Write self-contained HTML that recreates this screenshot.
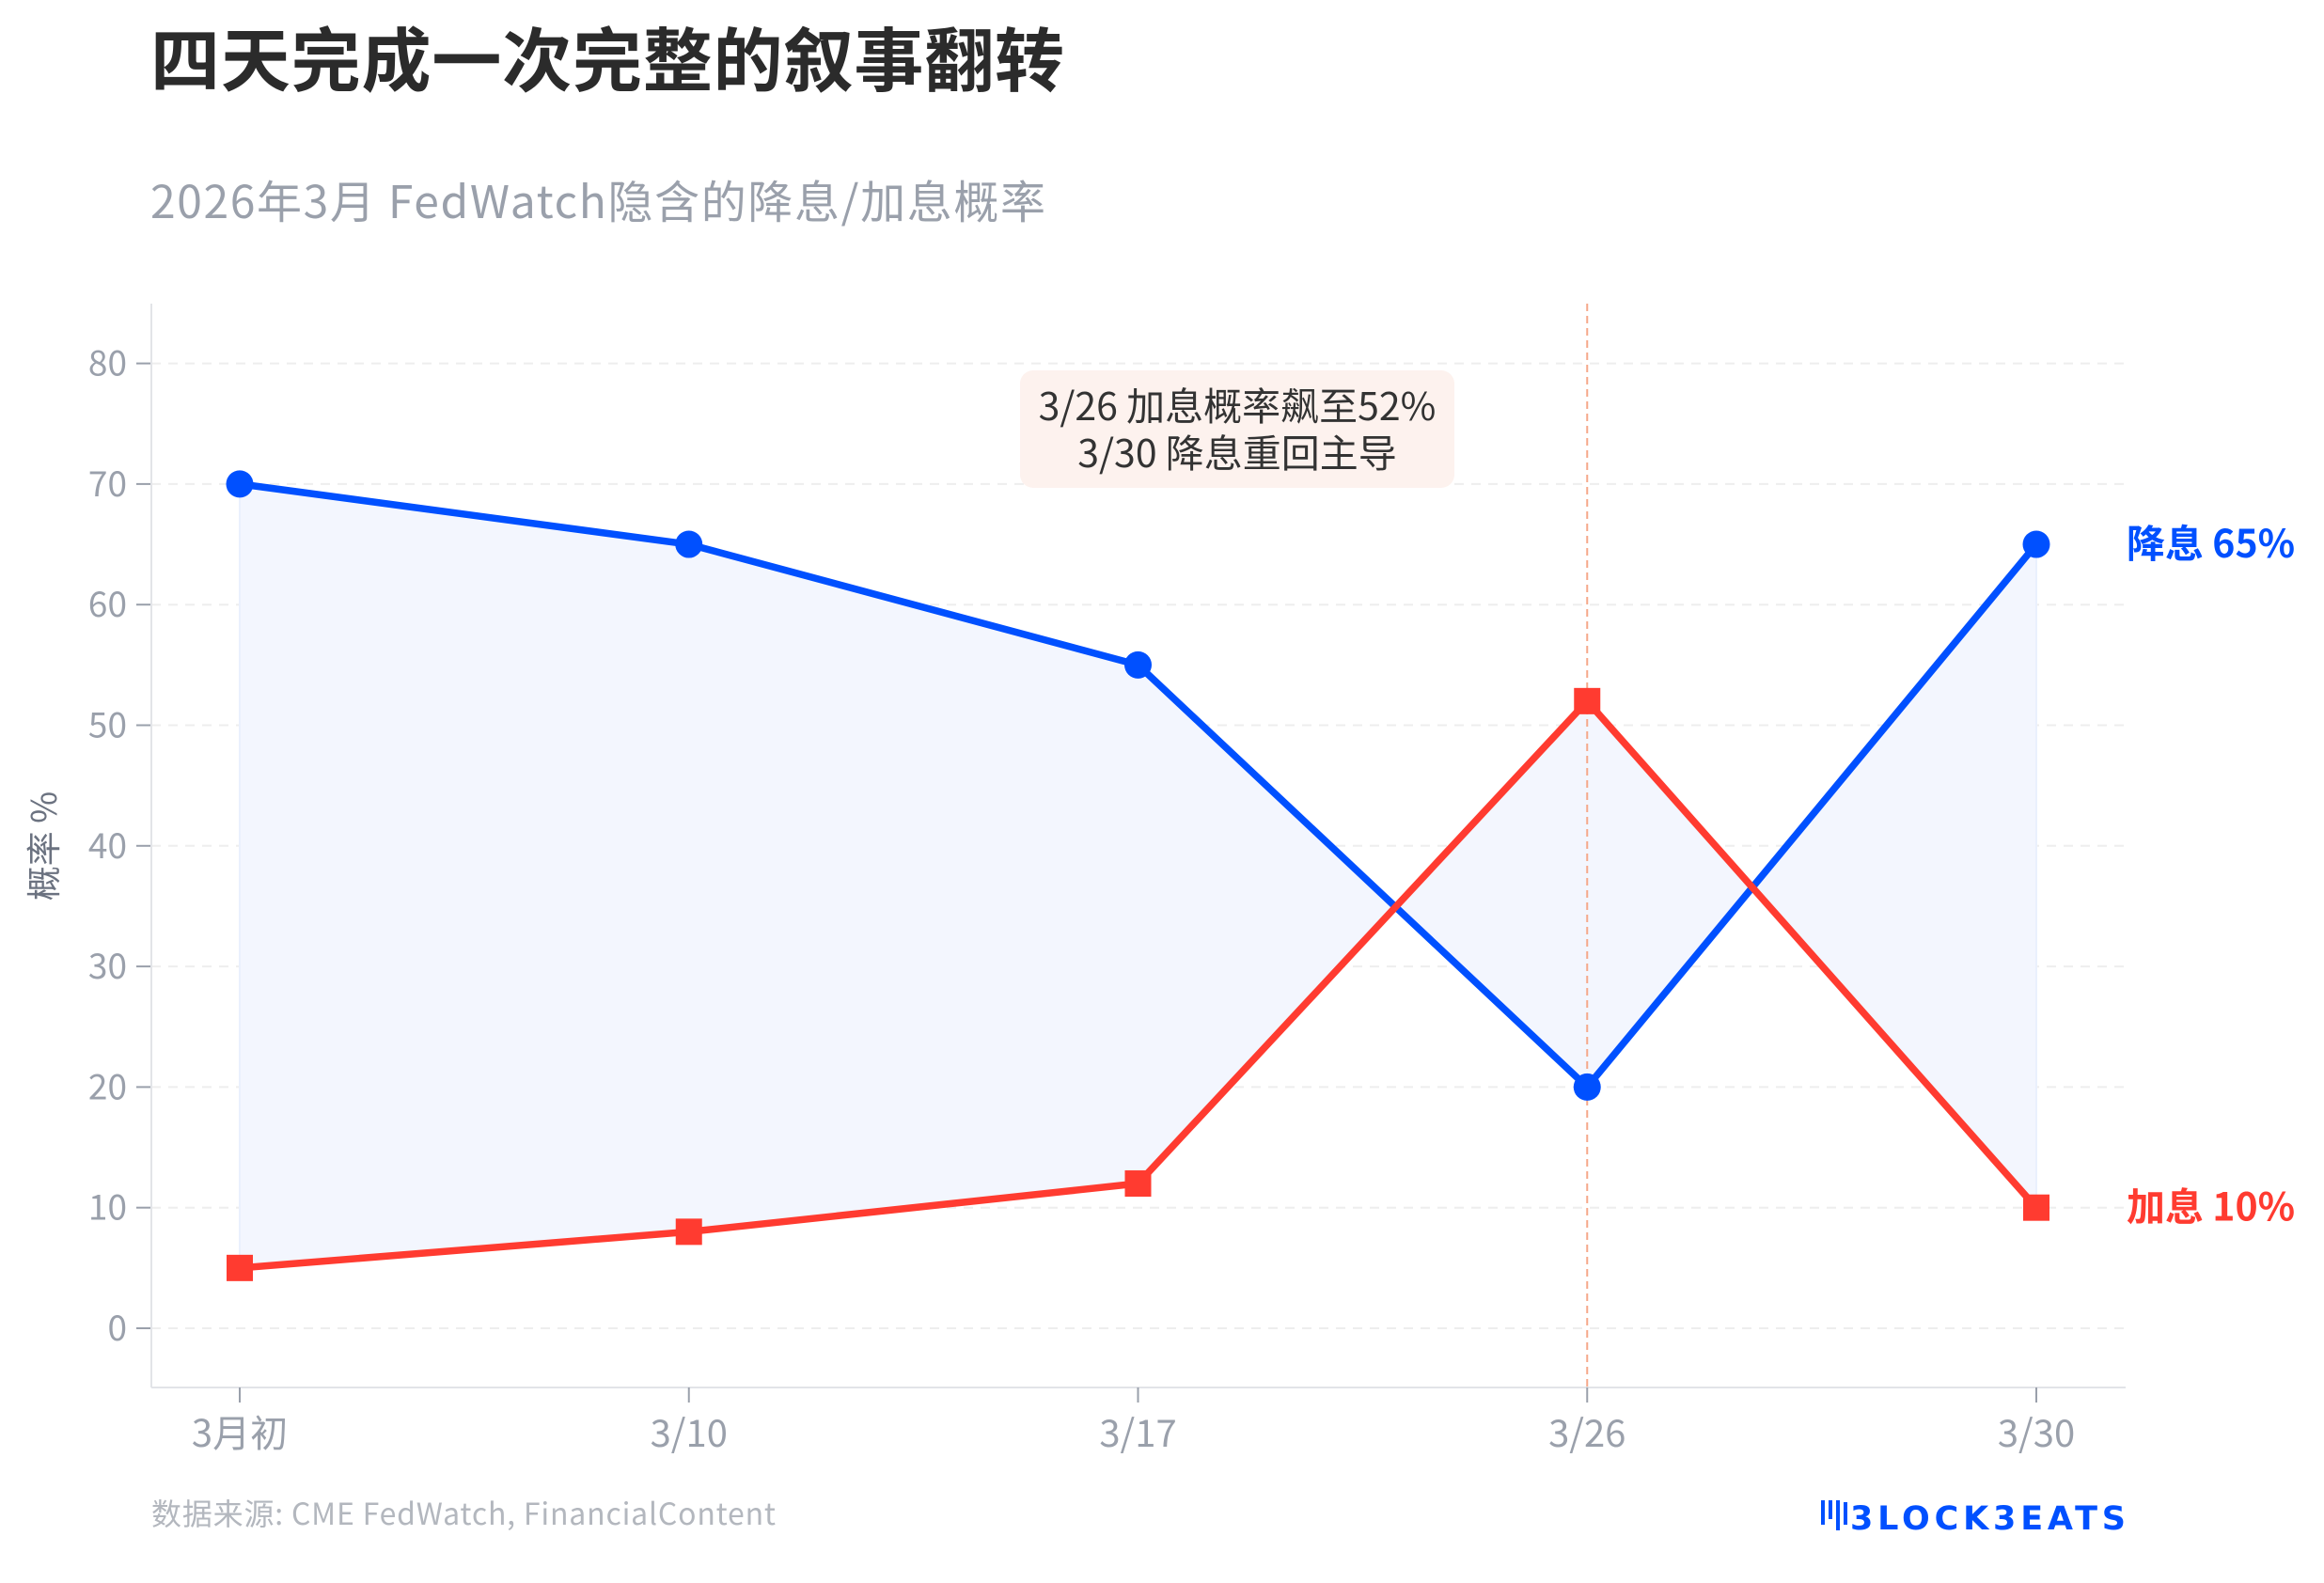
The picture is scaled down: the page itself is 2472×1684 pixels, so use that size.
<!DOCTYPE html>
<html><head><meta charset="utf-8"><style>
html,body{margin:0;padding:0;background:#fff;}
body{width:2472px;height:1679px;overflow:hidden;font-family:"Noto Sans CJK SC","Liberation Sans",sans-serif;}
</style></head><body>
<svg id="chart" width="2472" height="1679" viewBox="0 0 2472 1679" xmlns="http://www.w3.org/2000/svg" font-family="'Noto Sans CJK SC','Liberation Sans',sans-serif">
<text x="160" y="91" font-size="74" font-weight="bold" fill="#2b2b2b" textLength="972" font-family="'Noto Sans CJK SC',sans-serif">四天完成一次完整的叙事翻转</text>
<text x="160" y="232" font-size="48" fill="#9aa0ab" textLength="952" font-family="'Noto Sans CJK SC',sans-serif">2026年3月 FedWatch隐含的降息/加息概率</text>
<g id="plot"></g>
<text x="161" y="1622" font-size="32" fill="#b3b7be" textLength="664" font-family="'Noto Sans CJK SC',sans-serif">数据来源: CME FedWatch, FinancialContent</text>
<g>
<rect x="1937" y="1596" width="4" height="26" fill="#0050ff"/><rect x="1945" y="1596" width="4" height="20" fill="#0050ff"/><rect x="1953" y="1596" width="4" height="32" fill="#0050ff"/><rect x="1961" y="1598" width="4" height="24" fill="#0050ff"/>
<text x="1968" y="1627" font-size="35" font-weight="bold" fill="#0050ff" letter-spacing="3" textLength="296" font-family="'DejaVu Sans',sans-serif">3LOCK3EATS</text>
</g>
</svg>
<script>
const categories = ["3月初","3/10","3/17","3/26","3/30"];
const cutValues = [70,65,55,20,65];
const hikeValues = [5,8,12,52,10];
const yTicks = [0,10,20,30,40,50,60,70,80];
const annotationLines = ["3/26 加息概率飙至52%","3/30 降息重回主导"];
const cutLabel = "降息 65%";
const hikeLabel = "加息 10%";

const NS = "http://www.w3.org/2000/svg";
const plot = document.getElementById('plot');
const L = 161, R = 2261, T = 323, B = 1476;
const x0 = 255, x1 = 2166;
const FONT = "'Noto Sans CJK SC','Liberation Sans',sans-serif";
function xs(i){ return x0 + (x1 - x0) * i / (categories.length - 1); }
function ys(v){ return 1413 - 12.83 * v; }
function mk(tag, attrs, parent){
  const e = document.createElementNS(NS, tag);
  for (const k in attrs) e.setAttribute(k, attrs[k]);
  (parent || plot).appendChild(e);
  return e;
}
yTicks.forEach(v => {
  const g = mk('line', {x1:L, x2:R, y1:ys(v), y2:ys(v), stroke:'#eeeeee', 'stroke-width':2, 'stroke-dasharray':'10 8'});
  
  
  const t = mk('line', {x1:L-16, x2:L, y1:ys(v), y2:ys(v), stroke:'#9aa0ab', 'stroke-width':2});
  
  
  const lb = mk('text', {x:L-26, y:ys(v)+13, 'text-anchor':'end', 'font-size':37, fill:'#9aa0ab', 'font-family':FONT});
  lb.textContent = v;
  
  
});
const ya = mk('line', {x1:L, x2:L, y1:T, y2:B, stroke:'#e2e4e8', 'stroke-width':2});


const xa = mk('line', {x1:L, x2:R, y1:B, y2:B, stroke:'#e2e4e8', 'stroke-width':2});


categories.forEach((c, i) => {
  const t = mk('line', {x1:xs(i), x2:xs(i), y1:B, y2:B+16, stroke:'#9aa0ab', 'stroke-width':2});
  
  
  const lb = mk('text', {x:xs(i), y:B+63, 'text-anchor':'middle', 'font-size':40, fill:'#9aa0ab', 'font-family':FONT});
  lb.textContent = c;
  
  
});
const yt = mk('text', {x:0, y:0, transform:'translate(60,900) rotate(-90)', 'text-anchor':'middle', 'font-size':37, fill:'#6b7280', 'font-family':FONT});
yt.textContent = '概率 %';


let pts = cutValues.map((v,i)=>xs(i)+','+ys(v));
pts = pts.concat(hikeValues.map((v,i)=>xs(i)+','+ys(v)).reverse());
const fill = mk('polygon', {points:pts.join(' '), fill:'#f3f6fe', stroke:'#eaf0fd', 'stroke-width':2});


const vl = mk('line', {x1:xs(3), x2:xs(3), y1:T, y2:B, stroke:'#f5a88a', 'stroke-width':2, 'stroke-dasharray':'8 5'});


const ab = mk('rect', {x:1085, y:394, width:462, height:125, rx:14, fill:'#fdf2ee'});


annotationLines.forEach((s, i) => {
  const t = mk('text', {x:1316, y:447+i*50, 'text-anchor':'middle', 'font-size':41, fill:'#333333', 'font-family':FONT});
  t.textContent = s;
  
  
});
const cl = mk('polyline', {points:cutValues.map((v,i)=>xs(i)+','+ys(v)).join(' '), fill:'none', stroke:'#0050ff', 'stroke-width':7.5, 'stroke-linejoin':'round'});


const hl = mk('polyline', {points:hikeValues.map((v,i)=>xs(i)+','+ys(v)).join(' '), fill:'none', stroke:'#ff3b30', 'stroke-width':7.5, 'stroke-linejoin':'round'});


cutValues.forEach((v,i) => {
  const c = mk('circle', {cx:xs(i), cy:ys(v), r:14.5, fill:'#0050ff'});
  
  
});
hikeValues.forEach((v,i) => {
  const s = mk('rect', {x:xs(i)-14, y:ys(v)-14, width:28, height:28, fill:'#ff3b30'});
  
  
});
const n = categories.length - 1;
const el1 = mk('text', {x:2262, y:ys(cutValues[n])+14, 'font-size':41, 'font-weight':'bold', fill:'#0050ff', 'font-family':FONT});
el1.textContent = cutLabel;


const el2 = mk('text', {x:2262, y:ys(hikeValues[n])+14, 'font-size':41, 'font-weight':'bold', fill:'#ff3b30', 'font-family':FONT});
el2.textContent = hikeLabel;


</script>
</body></html>
